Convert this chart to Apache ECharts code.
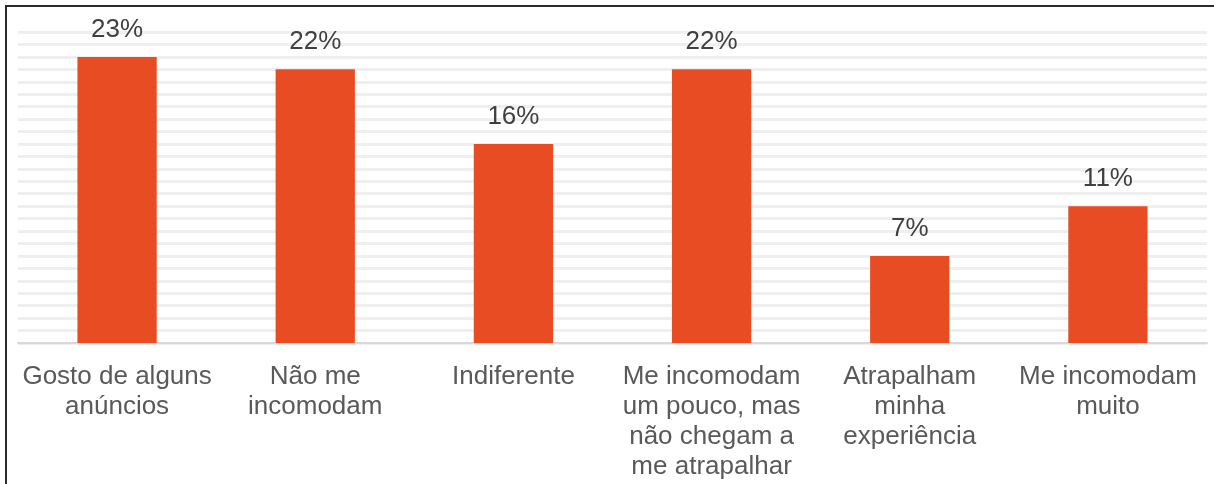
<!DOCTYPE html>
<html>
<head>
<meta charset="utf-8">
<script src="https://cdn.jsdelivr.net/npm/echarts@6/dist/echarts.min.js"></script>
<style>
  html, body { margin: 0; padding: 0; background: #fff; }
  #chart { width: 1214px; height: 484px; }
</style>
</head>
<body>
<div id="chart"></div>
<script>
const categories = [
  'Gosto de alguns\nanúncios',
  'Não me\nincomodam',
  'Indiferente',
  'Me incomodam\num pouco, mas\nnão chegam a\nme atrapalhar',
  'Atrapalham\nminha\nexperiência',
  'Me incomodam\nmuito'
]
const percentValues = [23, 22, 16, 22, 7, 11]

const textColor = '#595959'
const fontName = '"Liberation Sans", Arial, sans-serif'

const chart = echarts.init(document.getElementById('chart'))

const option = {
  animation: false,
  textStyle: { fontFamily: fontName },
  // frame around the image, top and left edges only visible
  graphic: [
    {
      type: 'rect',
      shape: { x: 6, y: 6, width: 1400, height: 700 },
      style: { fill: 'none', stroke: '#2b2b2b', lineWidth: 2 },
      silent: true
    }
  ],
  grid: {
    left: 18,
    right: 7,
    top: 32,
    bottom: 141
  },
  xAxis: {
    type: 'category',
    data: categories,
    axisLine: { lineStyle: { color: '#d9d9d9', width: 2 } },
    axisTick: { show: false },
    axisLabel: {
      color: textColor,
      fontSize: 26,
      lineHeight: 30,
      margin: 19,
      interval: 0,
      fontFamily: fontName
    }
  },
  yAxis: {
    type: 'value',
    min: 0,
    max: 25,
    interval: 1,
    axisLabel: { show: false },
    axisLine: { show: false },
    axisTick: { show: false },
    splitLine: { lineStyle: { color: '#efefef', width: 3 } }
  },
  series: [
    {
      type: 'bar',
      data: percentValues,
      barWidth: '40%',
      itemStyle: { color: '#e84c22' },
      label: {
        show: true,
        position: 'top',
        distance: 14,
        color: '#404040',
        fontSize: 26,
        fontFamily: fontName,
        formatter: p => p.value + '%'
      }
    }
  ]
}

chart.setOption(option)
</script>
</body>
</html>
